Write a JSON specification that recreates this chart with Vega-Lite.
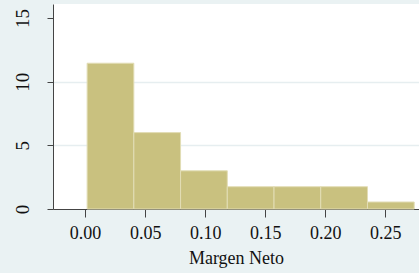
{
  "$schema": "https://vega.github.io/schema/vega-lite/v6.json",
  "width": 366,
  "height": 205,
  "autosize": {"type": "none"},
  "padding": {"left": 53, "top": 4, "right": 0, "bottom": 64},
  "background": "#EAF2F3",
  "view": {"fill": "white", "stroke": null},
  "config": {
    "font": "Liberation Serif",
    "axis": {
      "labelFont": "Liberation Serif",
      "titleFont": "Liberation Serif",
      "labelColor": "#111111",
      "titleColor": "#111111",
      "domainColor": "#444444",
      "tickColor": "#444444",
      "labelFontSize": 18,
      "titleFontSize": 18,
      "titleFontWeight": "normal"
    }
  },
  "data": {
    "values": [
      {"start": 0.0017, "end": 0.0406, "density": 11.45},
      {"start": 0.0406, "end": 0.0795, "density": 6.0},
      {"start": 0.0795, "end": 0.1184, "density": 3.0},
      {"start": 0.1184, "end": 0.1573, "density": 1.75},
      {"start": 0.1573, "end": 0.1962, "density": 1.75},
      {"start": 0.1962, "end": 0.2351, "density": 1.75},
      {"start": 0.2351, "end": 0.274, "density": 0.55}
    ]
  },
  "mark": {"type": "bar", "fill": "#C9C17F", "stroke": "#E2DDB5", "strokeWidth": 1},
  "encoding": {
    "x": {
      "field": "start",
      "type": "quantitative",
      "scale": {"domain": [-0.0267, 0.278], "nice": false, "zero": false},
      "axis": {
        "title": "Margen Neto",
        "titleFont": "Liberation Serif",
        "values": [0, 0.05, 0.1, 0.15, 0.2, 0.25],
        "format": ".2f",
        "grid": false,
        "tickSize": 8,
        "labelPadding": 7,
        "titlePadding": 7,
        "labelFlush": false
      }
    },
    "x2": {"field": "end"},
    "y": {
      "field": "density",
      "type": "quantitative",
      "scale": {"domain": [0, 16.1], "nice": false},
      "axis": {
        "title": null,
        "values": [0, 5, 10, 15],
        "tickSize": 6,
        "labelFontSize": 19,
        "labelAngle": 270,
        "labelAlign": "center",
        "labelBaseline": "bottom",
        "labelPadding": 15,
        "labelFlush": false,
        "grid": true,
        "gridColor": "#E6EEF0",
        "gridWidth": 1.5,
        "gridOpacity": {"condition": {"test": "datum.value == 5 || datum.value == 10", "value": 1}, "value": 0}
      }
    },
    "y2": {"datum": 0}
  }
}
